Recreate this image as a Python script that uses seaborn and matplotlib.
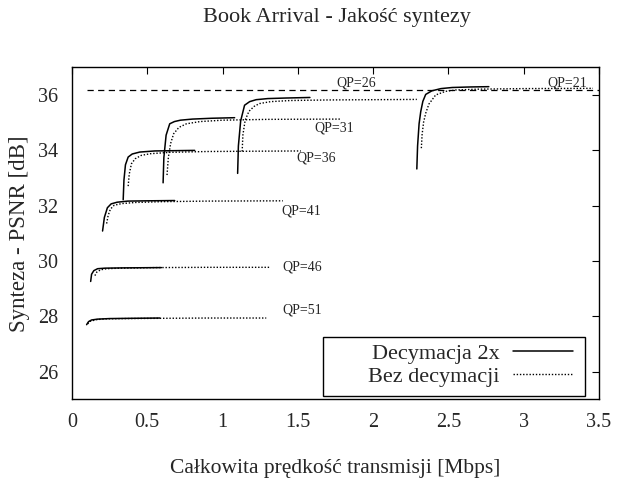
import numpy as np
import pandas as pd
import matplotlib
matplotlib.use("Agg")
import matplotlib.pyplot as plt
import matplotlib.patches as patches
import seaborn as sns

# Dane: dla kazdego QP krzywa z decymacja 2x i bez decymacji
qp_values = [51, 46, 41, 36, 31, 26, 21]

dec_x = {
    51: [0.097, 0.11, 0.13, 0.17, 0.25, 0.40, 0.583],
    46: [0.124, 0.13, 0.145, 0.17, 0.22, 0.35, 0.594],
    41: [0.203, 0.215, 0.235, 0.26, 0.30, 0.37, 0.50, 0.682],
    36: [0.34, 0.345, 0.355, 0.373, 0.40, 0.45, 0.55, 0.815],
    31: [0.605, 0.61, 0.625, 0.649, 0.68, 0.72, 0.80, 0.93, 1.08],
    26: [1.10, 1.105, 1.12, 1.146, 1.18, 1.223, 1.30, 1.42, 1.58],
    21: [2.29, 2.295, 2.305, 2.316, 2.33, 2.349, 2.39, 2.45, 2.525, 2.65, 2.768],
}
dec_y = {
    51: [27.70, 27.81, 27.87, 27.90, 27.92, 27.93, 27.94],
    46: [29.26, 29.52, 29.65, 29.72, 29.74, 29.75, 29.76],
    41: [31.08, 31.57, 31.92, 32.06, 32.12, 32.16, 32.17, 32.18],
    36: [32.21, 32.92, 33.47, 33.75, 33.86, 33.93, 33.97, 33.99],
    31: [32.82, 33.73, 34.54, 34.95, 35.03, 35.08, 35.12, 35.15, 35.17],
    26: [33.16, 34.15, 35.05, 35.62, 35.75, 35.82, 35.86, 35.88, 35.90],
    21: [33.32, 34.15, 34.95, 35.39, 35.76, 36.01, 36.14, 36.22, 36.26, 36.28, 36.29],
}

bez_x = {
    51: [0.104, 0.12, 0.16, 0.22, 0.35, 0.6, 0.9, 1.29],
    46: [0.152, 0.165, 0.19, 0.23, 0.32, 0.55, 0.9, 1.32],
    41: [0.23, 0.24, 0.255, 0.28, 0.33, 0.42, 0.6, 0.9, 1.40],
    36: [0.373, 0.38, 0.395, 0.42, 0.46, 0.52, 0.65, 0.9, 1.2, 1.52],
    31: [0.631, 0.64, 0.655, 0.675, 0.71, 0.76, 0.85, 1.0, 1.3, 1.786],
    26: [1.13, 1.135, 1.15, 1.175, 1.21, 1.245, 1.32, 1.45, 1.7, 2.0, 2.29],
    21: [2.32, 2.325, 2.335, 2.349, 2.37, 2.415, 2.48, 2.548, 2.7, 3.0, 3.46],
}
bez_y = {
    51: [27.73, 27.82, 27.88, 27.91, 27.92, 27.93, 27.94, 27.94],
    46: [29.47, 29.60, 29.68, 29.72, 29.74, 29.76, 29.77, 29.77],
    41: [31.35, 31.64, 31.87, 32.01, 32.07, 32.11, 32.14, 32.16, 32.17],
    36: [32.70, 33.13, 33.51, 33.69, 33.81, 33.87, 33.92, 33.95, 33.96, 33.97],
    31: [33.10, 33.74, 34.24, 34.59, 34.82, 34.95, 35.03, 35.08, 35.11, 35.12],
    26: [33.95, 34.55, 35.08, 35.40, 35.58, 35.68, 35.75, 35.79, 35.81, 35.82, 35.83],
    21: [34.07, 34.56, 35.01, 35.33, 35.66, 35.99, 36.12, 36.17, 36.20, 36.22, 36.23],
}

# Pozioma linia odniesienia (przerywana)
ref_x = [0.097, 3.5]
ref_y = [36.17, 36.17]

# Etykiety QP: pozycje w danych
label_x = [1.53, 1.53, 1.52, 1.62, 1.74, 1.89, 3.29]
label_y = [28.23, 29.78, 31.80, 33.71, 34.80, 36.42, 36.42]

x_ticks = [0, 0.5, 1, 1.5, 2, 2.5, 3, 3.5]
x_tick_labels = ["0", "0.5", "1", "1.5", "2", "2.5", "3", "3.5"]
y_ticks = [26, 28, 30, 32, 34, 36]

# Budowa tabeli w formacie "long"
wiersze = []
for qp in qp_values:
    for x, y in zip(dec_x[qp], dec_y[qp]):
        wiersze.append({"x": x, "y": y, "qp": qp, "metoda": "Decymacja 2x"})
    for x, y in zip(bez_x[qp], bez_y[qp]):
        wiersze.append({"x": x, "y": y, "qp": qp, "metoda": "Bez decymacji"})
df = pd.DataFrame(wiersze)

sns.set_style("white")
plt.rcParams["font.family"] = ["Liberation Serif", "DejaVu Serif"]

fig = plt.figure(figsize=(6.18, 4.83), dpi=100)
ax = fig.add_axes([0.1165, 0.1729, 0.8528, 0.6884])

styl_dec = "-"
styl_bez = (0, (1, 1.3))

for metoda, styl, lw in [("Decymacja 2x", styl_dec, 1.1), ("Bez decymacji", styl_bez, 1.0)]:
    for qp in qp_values:
        sub = df[(df["metoda"] == metoda) & (df["qp"] == qp)]
        sns.lineplot(data=sub, x="x", y="y", sort=False, estimator=None,
                     color="black", linewidth=lw, linestyle=styl, ax=ax)

ax.plot(ref_x, ref_y, color="black", linewidth=0.9, linestyle=(0, (5, 3.5)))

for qp, lx, ly in zip(qp_values, label_x, label_y):
    ax.text(lx, ly, f"QP={qp}", ha="center", va="center", fontsize=10)

ax.set_xlim(0, 3.5)
ax.set_ylim(25, 37)
ax.set_xticks(x_ticks)
ax.set_xticklabels(x_tick_labels)
ax.set_yticks(y_ticks)
ax.tick_params(direction="in", top=True, right=True, length=5, width=0.8,
               labelsize=14.5, pad=10, color="black")
for s in ax.spines.values():
    s.set_color("black")
    s.set_linewidth(1.0)

ax.set_xlabel("Całkowita prędkość transmisji [Mbps]", fontsize=15.5, labelpad=19)
ax.set_ylabel("Synteza - PSNR [dB]", fontsize=16.5, labelpad=6)
fig.text(0.545, 0.963, "Book Arrival - Jakość syntezy", fontsize=16,
         ha="center", va="center")

# Ramka legendy (w stylu gnuplot) i wpisy
ax.add_patch(patches.Rectangle((0.477, 0.011), 0.496, 0.177, transform=ax.transAxes,
                               facecolor="white", edgecolor="black", linewidth=1.0,
                               zorder=3))
uchwyty = [
    plt.Line2D([], [], color="black", linewidth=1.1, linestyle=styl_dec),
    plt.Line2D([], [], color="black", linewidth=1.0, linestyle=styl_bez),
]
leg = ax.legend(uchwyty, ["Decymacja 2x", "Bez decymacji"], loc="center",
                bbox_to_anchor=(0.756, 0.104), markerfirst=False, fontsize=16,
                frameon=False, handlelength=2.7, borderpad=0, labelspacing=0.12,
                borderaxespad=0, handletextpad=0.6)
leg.set_zorder(4)

plt.savefig("out.png", dpi=100)
